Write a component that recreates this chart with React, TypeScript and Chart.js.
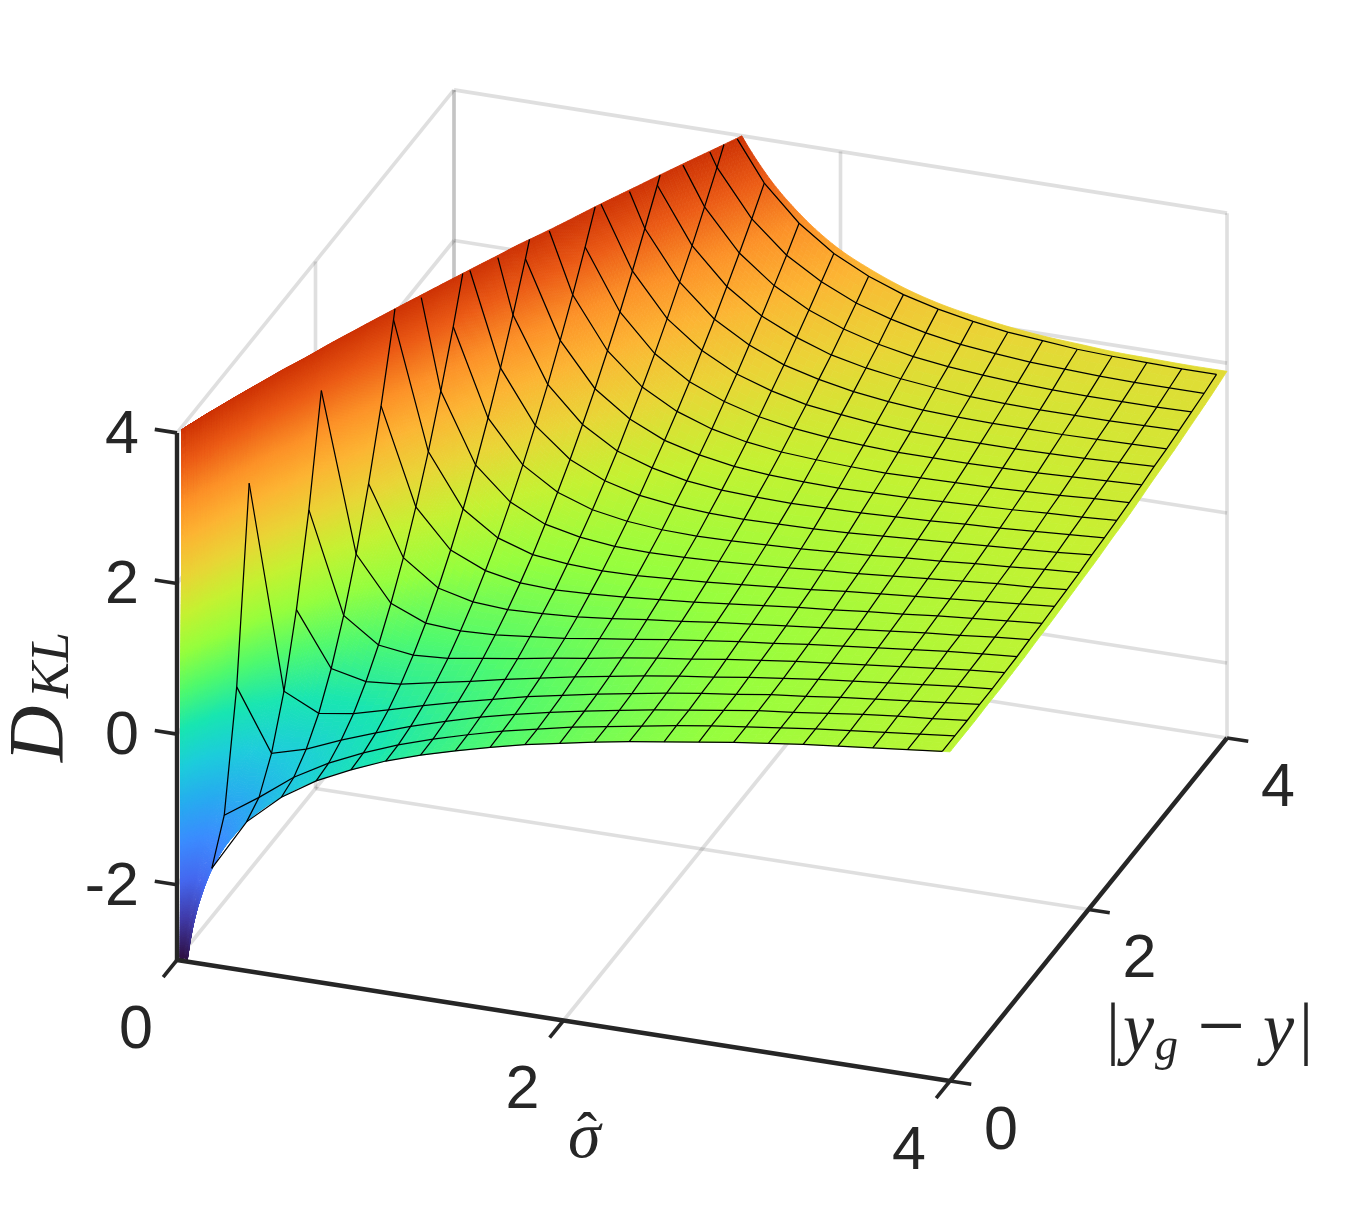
import React, { useEffect, useRef } from "react";
import { Chart, registerables } from "chart.js";

Chart.register(...registerables);

const sigmaKnots = [0.01,0.02,0.03,0.04,0.05,0.065,0.08,0.1,0.125,0.15,0.18,0.22,0.27,0.36,0.45,0.54,0.63,0.72,0.81,0.9,1.08,1.26,1.44,1.62,1.8,1.98,2.16,2.34,2.52,2.7,2.88,3.06,3.24,3.42,3.6,3.78,3.96,4];
const yKnots = [0,0.02,0.05,0.1,0.18,0.36,0.54,0.72,0.9,1.08,1.26,1.44,1.62,1.8,1.98,2.16,2.34,2.52,2.7,2.88,3.06,3.24,3.42,3.6,3.78,3.96,4];
const meshSigma = [0.18,0.36,0.54,0.72,0.9,1.08,1.26,1.44,1.62,1.8,1.98,2.16,2.34,2.52,2.7,2.88,3.06,3.24,3.42,3.6,3.78,3.96];
const meshY = [0,0.18,0.36,0.54,0.72,0.9,1.08,1.26,1.44,1.62,1.8,1.98,2.16,2.34,2.52,2.7,2.88,3.06,3.24,3.42,3.6,3.78,3.96];
const sigmaTicks = [0,2,4];
const yTicks = [0,2,4];
const zTicks = [-2,0,2,4];
const RUN_OFF = 60; // value used once a column has left far above the visible z range

// D_KL per sigma knot, listed along yKnots; a column stops where the surface is far off the axis
const surfaceColumns: number[][] = [
[-4.61,-2.61,7.89,45.4],
[-3.91,-3.41,-0.79,8.59,36.6],
[-3.51,-3.28,-2.12,2.05,14.49],
[-3.22,-3.09,-2.44,-0.09,6.91,37.3],
[-3.00,-2.92,-2.50,-1.00,3.48,22.9,55.3],
[-2.73,-2.69,-2.44,-1.55,1.10,12.6,31.8,58.6],
[-2.53,-2.49,-2.33,-1.75,0.00,7.60,20.2,38.0],
[-2.30,-2.28,-2.18,-1.80,-0.68,4.18,12.28,23.6,38.2,56.0],
[-2.08,-2.07,-2.00,-1.76,-1.04,2.07,7.25,14.51,23.8,35.2,48.7],
[-1.90,-1.89,-1.84,-1.67,-1.18,0.98,4.58,9.62,16.1,24.0,33.4,44.2,56.4],
[-1.71,-1.71,-1.68,-1.56,-1.21,0.29,2.79,6.29,10.79,16.29,22.79,30.29,38.8,48.3,58.8],
[-1.51,-1.51,-1.49,-1.41,-1.18,-0.18,1.50,3.84,6.85,10.54,14.89,19.9,25.6,32.0,39.0,46.7,55.1],
[-1.31,-1.31,-1.29,-1.24,-1.09,-0.42,0.69,2.25,4.25,6.69,9.58,12.91,16.69,20.91,25.58,30.69,36.25,42.25,48.69,55.58],
[-1.02,-1.02,-1.01,-0.98,-0.90,-0.52,0.10,0.98,2.10,3.48,5.10,6.98,9.10,11.48,14.10,16.98,20.1,23.48,27.1,30.98,35.1,39.48,44.1,48.98,54.1,59.48,60.7],
[-0.80,-0.80,-0.79,-0.77,-0.72,-0.48,-0.08,0.48,1.20,2.08,3.12,4.32,5.68,7.20,8.88,10.72,12.72,14.88,17.2,19.68,22.32,25.12,28.08,31.2,34.48,37.92,38.7],
[-0.62,-0.62,-0.61,-0.60,-0.56,-0.39,-0.12,0.27,0.77,1.38,2.11,2.94,3.88,4.94,6.11,7.38,8.77,10.27,11.88,13.61,15.44,17.38,19.44,21.6,23.88,26.27,26.81],
[-0.46,-0.46,-0.46,-0.45,-0.42,-0.30,-0.09,0.19,0.56,1.01,1.54,2.15,2.84,3.62,4.48,5.42,6.44,7.54,8.72,9.99,11.33,12.76,14.27,15.87,17.54,19.3,19.7],
[-0.33,-0.33,-0.33,-0.32,-0.30,-0.20,-0.05,0.17,0.45,0.80,1.20,1.67,2.20,2.80,3.45,4.17,4.95,5.80,6.70,7.67,8.70,9.80,10.95,12.17,13.45,14.80,15.10],
[-0.21,-0.21,-0.21,-0.20,-0.19,-0.11,0.01,0.18,0.41,0.68,1.00,1.37,1.79,2.26,2.78,3.34,3.96,4.63,5.35,6.11,6.93,7.79,8.70,9.67,10.68,11.74,11.98],
[-0.11,-0.11,-0.10,-0.10,-0.09,-0.03,0.07,0.21,0.39,0.61,0.87,1.17,1.51,1.89,2.31,2.77,3.27,3.81,4.39,5.01,5.67,6.37,7.11,7.89,8.71,9.57,9.77],
[0.08,0.08,0.08,0.08,0.09,0.13,0.20,0.30,0.42,0.58,0.76,0.97,1.20,1.47,1.76,2.08,2.42,2.80,3.20,3.63,4.09,4.58,5.09,5.63,6.20,6.80,6.94],
[0.23,0.23,0.23,0.23,0.24,0.27,0.32,0.39,0.49,0.60,0.73,0.88,1.05,1.25,1.47,1.70,1.96,2.23,2.53,2.84,3.18,3.54,3.91,4.31,4.73,5.17,5.27],
[0.36,0.36,0.37,0.37,0.37,0.40,0.43,0.49,0.56,0.65,0.75,0.86,1.00,1.15,1.31,1.49,1.68,1.90,2.12,2.36,2.62,2.90,3.18,3.49,3.81,4.15,4.22],
[0.48,0.48,0.48,0.48,0.49,0.51,0.54,0.58,0.64,0.70,0.78,0.88,0.98,1.10,1.23,1.37,1.53,1.69,1.87,2.06,2.27,2.48,2.71,2.95,3.20,3.47,3.53],
[0.59,0.59,0.59,0.59,0.59,0.61,0.63,0.67,0.71,0.77,0.83,0.91,0.99,1.09,1.19,1.31,1.43,1.57,1.71,1.87,2.03,2.21,2.39,2.59,2.79,3.01,3.06],
[0.68,0.68,0.68,0.68,0.69,0.70,0.72,0.75,0.79,0.83,0.89,0.95,1.02,1.10,1.18,1.28,1.38,1.49,1.61,1.74,1.88,2.02,2.18,2.34,2.51,2.68,2.72],
[0.77,0.77,0.77,0.77,0.77,0.78,0.80,0.83,0.86,0.90,0.94,0.99,1.05,1.12,1.19,1.27,1.36,1.45,1.55,1.66,1.77,1.90,2.02,2.16,2.30,2.45,2.49],
[0.85,0.85,0.85,0.85,0.85,0.86,0.88,0.90,0.92,0.96,1.00,1.04,1.09,1.15,1.21,1.28,1.35,1.43,1.52,1.61,1.71,1.81,1.92,2.03,2.16,2.28,2.31],
[0.92,0.92,0.92,0.92,0.93,0.93,0.95,0.96,0.99,1.02,1.05,1.09,1.13,1.18,1.23,1.29,1.36,1.42,1.50,1.58,1.66,1.75,1.85,1.94,2.05,2.16,2.18],
[0.99,0.99,0.99,0.99,1.00,1.00,1.01,1.03,1.05,1.07,1.10,1.14,1.17,1.22,1.26,1.31,1.37,1.43,1.49,1.56,1.63,1.71,1.80,1.88,1.97,2.07,2.09],
[1.06,1.06,1.06,1.06,1.06,1.07,1.08,1.09,1.11,1.13,1.15,1.18,1.22,1.25,1.29,1.34,1.39,1.44,1.50,1.56,1.62,1.69,1.76,1.84,1.92,2.00,2.02],
[1.12,1.12,1.12,1.12,1.12,1.12,1.13,1.15,1.16,1.18,1.20,1.23,1.26,1.29,1.33,1.37,1.41,1.46,1.51,1.56,1.62,1.68,1.74,1.81,1.88,1.96,1.97],
[1.18,1.18,1.18,1.18,1.18,1.18,1.19,1.20,1.21,1.23,1.25,1.27,1.30,1.33,1.36,1.40,1.44,1.48,1.52,1.57,1.62,1.68,1.73,1.79,1.86,1.92,1.94],
[1.23,1.23,1.23,1.23,1.23,1.24,1.24,1.25,1.26,1.28,1.30,1.32,1.34,1.37,1.40,1.43,1.46,1.50,1.54,1.58,1.63,1.68,1.73,1.78,1.84,1.90,1.91],
[1.28,1.28,1.28,1.28,1.28,1.29,1.29,1.30,1.31,1.33,1.34,1.36,1.38,1.41,1.43,1.46,1.49,1.53,1.56,1.60,1.64,1.69,1.73,1.78,1.83,1.89,1.90],
[1.33,1.33,1.33,1.33,1.33,1.33,1.34,1.35,1.36,1.37,1.39,1.40,1.42,1.44,1.47,1.49,1.52,1.55,1.59,1.62,1.66,1.70,1.74,1.78,1.83,1.88,1.89],
[1.38,1.38,1.38,1.38,1.38,1.38,1.39,1.39,1.40,1.41,1.43,1.44,1.46,1.48,1.50,1.53,1.55,1.58,1.61,1.64,1.68,1.71,1.75,1.79,1.83,1.88,1.89],
[1.39,1.39,1.39,1.39,1.39,1.39,1.40,1.40,1.41,1.42,1.44,1.45,1.47,1.49,1.51,1.53,1.56,1.58,1.61,1.65,1.68,1.71,1.75,1.79,1.83,1.88,1.89],
];

const zColorStops: [number, number, number, number][] = [
  [-3.0,48,18,70],[-2.5,65,60,170],[-2.0,70,105,240],[-1.5,60,140,255],[-1.0,40,172,240],[-0.5,30,205,220],
  [0.0,25,230,178],[0.5,80,250,110],[1.0,150,255,62],[1.5,197,242,50],[2.0,234,213,55],[2.5,252,182,52],
  [3.0,252,145,40],[3.5,236,92,22],[4.0,205,50,5],
];

const Z_MIN = -3, Z_MAX = 4;
const MESH_DROP_ABOVE = 5;

const project = (s: number, y: number, z: number) => ({
  x: 177 + 193.25 * s + 69.25 * y,
  y: 960 + 30.25 * s - 85.75 * y - (75.3 - 0.08 * s) * (z - Z_MIN),
});

const colorOf = (z: number) => {
  const v = Math.max(Z_MIN, Math.min(Z_MAX, z));
  for (let i = 1; i < zColorStops.length; i++) {
    const a = zColorStops[i - 1], b = zColorStops[i];
    if (v <= b[0]) {
      const t = (v - a[0]) / (b[0] - a[0]);
      return `rgb(${a[1] + (b[1] - a[1]) * t | 0},${a[2] + (b[2] - a[2]) * t | 0},${a[3] + (b[3] - a[3]) * t | 0})`;
    }
  }
  return "rgb(205,50,5)";
};

// shading is smoothed between table entries on a compressed height scale
const squeeze = (z: number) => Math.log(z + 6);
const unsqueeze = (g: number) => Math.exp(g) - 6;

const cell = (c: number, r: number) => {
  const col = surfaceColumns[Math.max(0, Math.min(surfaceColumns.length - 1, c))];
  return squeeze(col[Math.max(0, Math.min(yKnots.length - 1, r))] ?? RUN_OFF);
};
const cr = (p0: number, p1: number, p2: number, p3: number, t: number) =>
  0.5 * (2 * p1 + (p2 - p0) * t + (2 * p0 - 5 * p1 + 4 * p2 - p3) * t * t + (3 * p1 - p0 - 3 * p2 + p3) * t * t * t);
const knot = (a: number[], i: number) => a[Math.max(0, Math.min(a.length - 1, i))];

const surfacePoint = (u: number, v: number) => {
  const c = Math.min(Math.floor(u), sigmaKnots.length - 2), tu = u - c;
  const r = Math.min(Math.floor(v), yKnots.length - 2), tv = v - r;
  const s = cr(knot(sigmaKnots, c - 1), knot(sigmaKnots, c), knot(sigmaKnots, c + 1), knot(sigmaKnots, c + 2), tu);
  const y = cr(knot(yKnots, r - 1), knot(yKnots, r), knot(yKnots, r + 1), knot(yKnots, r + 2), tv);
  const col = (k: number) => cr(cell(k, r - 1), cell(k, r), cell(k, r + 1), cell(k, r + 2), tv);
  const z = unsqueeze(cr(col(c - 1), col(c), col(c + 1), col(c + 2), tu));
  return { s, y, z };
};

type V = { s: number; y: number; z: number };
const clipRange = (poly: V[]) => {
  const cut = (pts: V[], inside: (p: V) => boolean, lim: number) => {
    const out: V[] = [];
    pts.forEach((p, i) => {
      const q = pts[(i + 1) % pts.length];
      const pi = inside(p), qi = inside(q);
      if (pi) out.push(p);
      if (pi !== qi) {
        const t = (lim - p.z) / (q.z - p.z);
        out.push({ s: p.s + (q.s - p.s) * t, y: p.y + (q.y - p.y) * t, z: lim });
      }
    });
    return out;
  };
  return cut(cut(poly, (p) => p.z <= Z_MAX, Z_MAX), (p) => p.z >= Z_MIN, Z_MIN);
};

const surfacePlugin = {
  id: "surfaceFill",
  beforeDatasetDraw(chart: any, args: any) {
    if (chart.data.datasets[args.index].label !== "surface") return;
    const { ctx, scales } = chart;
    const px = (v: V) => {
      const p = project(v.s, v.y, v.z);
      return [scales.x.getPixelForValue(p.x), scales.y.getPixelForValue(p.y)];
    };
    ctx.save();
    ctx.lineWidth = 0.8;
    ctx.lineJoin = "round";
    const draw = (a: V, b: V, c: V, d: V) => {
      const poly = clipRange([a, b, c, d]);
      if (poly.length < 3) return;
      const zAvg = poly.reduce((t, p) => t + p.z, 0) / poly.length;
      const col = colorOf(zAvg);
      ctx.fillStyle = col;
      ctx.strokeStyle = col;
      ctx.beginPath();
      poly.forEach((p, i) => {
        const [x, y] = px(p);
        if (i) ctx.lineTo(x, y);
        else ctx.moveTo(x, y);
      });
      ctx.closePath();
      ctx.fill();
      ctx.stroke();
    };
    const clampZ = (z: number) => Math.max(Z_MIN, Math.min(Z_MAX, z));
    const rec = (u0: number, u1: number, v0: number, v1: number, depth: number) => {
      const a = surfacePoint(u0, v0), b = surfacePoint(u1, v0), c = surfacePoint(u1, v1), d = surfacePoint(u0, v1);
      const zs = [a.z, b.z, c.z, d.z];
      const hi = Math.max(...zs), lo = Math.min(...zs);
      if (depth >= 4 && (lo > Z_MAX + 0.4 || hi < Z_MIN - 0.4)) return;
      const du = Math.max(Math.abs(clampZ(b.z) - clampZ(a.z)), Math.abs(clampZ(c.z) - clampZ(d.z)));
      const dv = Math.max(Math.abs(clampZ(d.z) - clampZ(a.z)), Math.abs(clampZ(c.z) - clampZ(b.z)));
      const wu = Math.abs(b.s - a.s) * 193, wv = Math.abs(d.y - a.y) * 110;
      const fineZ = du < 0.05 && dv < 0.05;
      if (depth >= 14 || (fineZ && wu < 12 && wv < 12)) {
        draw(a, b, c, d);
        return;
      }
      const splitU = fineZ ? wu >= wv : du >= dv;
      if (splitU) {
        const m = (u0 + u1) / 2;
        rec(u0, m, v0, v1, depth + 1);
        rec(m, u1, v0, v1, depth + 1);
      } else {
        const m = (v0 + v1) / 2;
        rec(u0, u1, m, v1, depth + 1);
        rec(u0, u1, v0, m, depth + 1);
      }
    };
    for (let r = yKnots.length - 2; r >= 0; r--) {
      for (let c = 0; c < sigmaKnots.length - 1; c++) rec(c, c + 1, r, r + 1, 0);
    }
    ctx.restore();
  },
};

const DARK = "#262626";
const tickFont = '61px "Liberation Sans", Arial, sans-serif';
const serif = '"Liberation Serif", "DejaVu Serif", serif';

const textPlugin = {
  id: "axisText",
  afterDatasetsDraw(chart: any) {
    const { ctx, scales } = chart;
    const at = (x: number, y: number): [number, number] => [scales.x.getPixelForValue(x), scales.y.getPixelForValue(y)];
    ctx.save();
    ctx.fillStyle = DARK;
    ctx.textBaseline = "middle";
    ctx.font = tickFont;
    ctx.textAlign = "right";
    zTicks.forEach((z) => {
      const p = project(0, 0, z);
      ctx.fillText(String(z), ...at(p.x - 38, p.y + 3));
    });
    ctx.textAlign = "center";
    sigmaTicks.forEach((s) => {
      const p = project(s, 0, Z_MIN);
      ctx.fillText(String(s), ...at(p.x - 41, p.y + 71));
    });
    yTicks.forEach((y) => {
      const p = project(4, y, Z_MIN);
      ctx.fillText(String(y), ...at(p.x + 51, p.y + 51));
    });
    ctx.textBaseline = "alphabetic";
    ctx.textAlign = "left";
    const run = (s: string, x: number, y: number, font: string) => {
      ctx.font = font;
      ctx.fillText(s, ...at(x, y));
    };
    const big = `italic 70px ${serif}`, up = `70px ${serif}`;
    run("|", 1106, 1051, up);
    run("y", 1123, 1051, big);
    run("g", 1155, 1060, `italic 46px ${serif}`);
    run("\u2212", 1197, 1054, `85px ${serif}`);
    run("y", 1263, 1051, big);
    run("|", 1299, 1051, up);
    run("\u03c3", 568, 1157, `italic 66px ${serif}`);
    ctx.textAlign = "center";
    run("\u02c6", 587, 1153, `60px ${serif}`);
    ctx.textAlign = "left";
    const [lx, ly] = at(62, 762);
    ctx.translate(lx, ly);
    ctx.rotate(-Math.PI / 2);
    ctx.font = `italic 78px ${serif}`;
    ctx.fillText("D", 0, 0);
    ctx.font = `italic 54px ${serif}`;
    ctx.fillText("KL", 64, 6);
    ctx.restore();
  },
};

const lineSet = (label: string, pts: { x: number; y: number }[], color: string, width: number, order: number) => ({
  type: "scatter" as const,
  label,
  data: pts,
  showLine: true,
  borderColor: color,
  backgroundColor: color,
  borderWidth: width,
  pointRadius: 0,
  tension: 0,
  fill: false,
  order,
  spanGaps: false,
  clip: false as const,
});

const meshValue = (s: number, y: number) => surfaceColumns[sigmaKnots.indexOf(s)][yKnots.indexOf(y)] ?? RUN_OFF;

const meshPolyline = (verts: V[]) => {
  const out: { x: number; y: number }[] = [];
  const gap = { x: NaN, y: NaN };
  const clipPt = (a: V, b: V) => {
    const t = (Z_MAX - a.z) / (b.z - a.z);
    return project(a.s + (b.s - a.s) * t, a.y + (b.y - a.y) * t, Z_MAX);
  };
  for (let i = 0; i + 1 < verts.length; i++) {
    const a = verts[i], b = verts[i + 1];
    const ai = a.z <= Z_MAX, bi = b.z <= Z_MAX;
    if (ai && bi) {
      out.push(project(a.s, a.y, a.z), project(b.s, b.y, b.z));
    } else if (ai && b.z <= MESH_DROP_ABOVE) {
      out.push(project(a.s, a.y, a.z), clipPt(a, b), gap);
    } else if (bi && a.z <= MESH_DROP_ABOVE) {
      out.push(gap, clipPt(b, a), project(b.s, b.y, b.z));
    } else {
      out.push(gap);
    }
  }
  return out;
};

const segment = (a: number[], b: number[]) => [project(a[0], a[1], a[2]), project(b[0], b[1], b[2])];

const buildDatasets = () => {
  const ds: any[] = [];
  const GRID = "rgba(38,38,38,0.15)";
  const grid = (name: string, a: number[], b: number[]) => ds.push(lineSet(name, segment(a, b), GRID, 3.6, 4));
  zTicks.forEach((z) => {
    grid(`z ${z} side wall`, [0, 0, z], [0, 4, z]);
    grid(`z ${z} back wall`, [0, 4, z], [4, 4, z]);
  });
  grid("floor side", [0, 0, Z_MIN], [0, 4, Z_MIN]);
  grid("floor back", [0, 4, Z_MIN], [4, 4, Z_MIN]);
  grid("floor sigma 2", [2, 0, Z_MIN], [2, 4, Z_MIN]);
  grid("floor y 2", [0, 2, Z_MIN], [4, 2, Z_MIN]);
  grid("side y 2", [0, 2, Z_MIN], [0, 2, Z_MAX]);
  grid("side y 4", [0, 4, Z_MIN], [0, 4, Z_MAX]);
  grid("back sigma 0", [0, 4, Z_MIN], [0, 4, Z_MAX]);
  grid("back sigma 2", [2, 4, Z_MIN], [2, 4, Z_MAX]);
  grid("back sigma 4", [4, 4, Z_MIN], [4, 4, Z_MAX]);

  const anchor: { x: number; y: number }[] = [];
  sigmaKnots.forEach((s, c) =>
    yKnots.forEach((y, r) => {
      const z = surfaceColumns[c][r];
      if (z !== undefined && z <= Z_MAX && z >= Z_MIN) anchor.push(project(s, y, z));
    }),
  );
  ds.push({ type: "scatter", label: "surface", data: anchor, showLine: false, pointRadius: 0, order: 3 });

  meshSigma.forEach((s) =>
    ds.push(lineSet(`mesh sigma ${s}`, meshPolyline(meshY.map((y) => ({ s, y, z: meshValue(s, y) }))), "#000", 1.25, 2)),
  );
  meshY.forEach((y) =>
    ds.push(lineSet(`mesh y ${y}`, meshPolyline(meshSigma.map((s) => ({ s, y, z: meshValue(s, y) }))), "#000", 1.25, 2)),
  );

  const axis = (name: string, a: number[], b: number[], w = 4.4) => ds.push(lineSet(name, segment(a, b), DARK, w, 1));
  axis("z axis", [0, 0, Z_MIN], [0, 0, Z_MAX]);
  axis("sigma axis", [0, 0, Z_MIN], [4, 0, Z_MIN]);
  axis("y axis", [4, 0, Z_MIN], [4, 4, Z_MIN]);
  zTicks.forEach((z) => axis(`z tick ${z}`, [0, 0, z], [-0.115, 0, z], 3.6));
  sigmaTicks.forEach((s) => axis(`sigma tick ${s}`, [s, 0, Z_MIN], [s, -0.2, Z_MIN], 3.6));
  yTicks.forEach((y) => axis(`y tick ${y}`, [4, y, Z_MIN], [4.11, y, Z_MIN], 3.6));
  return ds;
};

export default function App() {
  const ref = useRef<HTMLCanvasElement | null>(null);
  useEffect(() => {
    if (!ref.current) return;
    const chart = new Chart(ref.current, {
      type: "scatter",
      data: { datasets: buildDatasets() },
      plugins: [surfacePlugin, textPlugin],
      options: {
        animation: false,
        responsive: false,
        devicePixelRatio: 1,
        layout: { padding: 0 },
        events: [],
        plugins: { legend: { display: false }, title: { display: false }, tooltip: { enabled: false } },
        scales: {
          x: { type: "linear", min: 0, max: 1356, display: false },
          y: { type: "linear", min: 0, max: 1218, reverse: true, display: false },
        },
      },
    } as any);
    return () => chart.destroy();
  }, []);
  return (
    <div style={{ position: "absolute", left: 0, top: 0, width: 1356, height: 1218, background: "#fff" }}>
      <canvas ref={ref} width={1356} height={1218} style={{ display: "block" }} />
    </div>
  );
}
